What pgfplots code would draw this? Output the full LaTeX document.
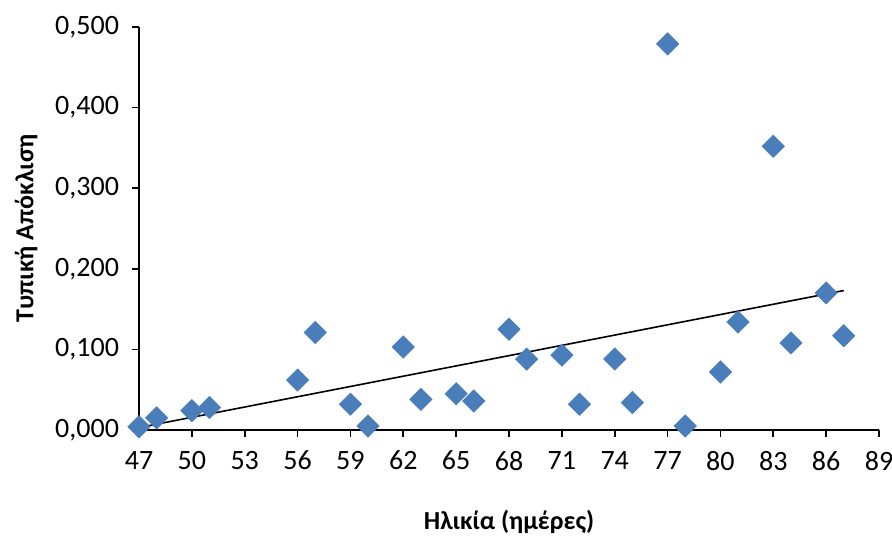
\documentclass[border=0pt]{standalone}
\usepackage{fontspec}
\setmainfont{Carlito}
\usepackage{pgfplots}
\pgfplotsset{compat=1.18}
\definecolor{mk}{HTML}{4A7EBB}
\begin{document}
\begin{tikzpicture}
\begin{axis}[
  scale only axis,
  width=370pt, height=201.5pt,
  xmin=47, xmax=89, ymin=0, ymax=0.5,
  axis x line=bottom, axis y line=left,
  axis line style={-, line width=0.8pt, black},
  xtick={47,50,...,89},
  ytick={0,0.1,0.2,0.3,0.4,0.5},
  tick align=outside,
  major tick length=3.5pt,
  tick style={line width=0.8pt, black},
  /pgf/number format/assume math mode=true,
  yticklabel style={/pgf/number format/fixed, /pgf/number format/fixed zerofill, /pgf/number format/precision=3, /pgf/number format/use comma},
  scaled y ticks=false,
  ticklabel style={font=\fontsize{14}{16}\selectfont},
  xticklabel style={yshift=-3.5pt},
  yticklabel style={xshift=-3pt},
  xlabel={\bfseries Ηλικία (ημέρες)},
  ylabel={\bfseries Τυπική Απόκλιση},
  label style={font=\fontsize{13}{15}\selectfont},
  xlabel style={yshift=-13pt},
  ylabel style={yshift=2pt},
  clip=false,
]
\addplot[black, line width=0.8pt] coordinates {(47,0.003) (87,0.173)};
\addplot[only marks, mark=square*, mark size=3.9pt,
  mark options={rotate=45, fill=mk, draw=mk}] coordinates {
(47,0.004) (48,0.015) (50,0.024) (51,0.028) (56,0.062) (57,0.121)
(59,0.032) (60,0.005) (62,0.103) (63,0.038) (65,0.045) (66,0.036)
(68,0.125) (69,0.088) (71,0.093) (72,0.032) (74,0.088) (75,0.034)
(77,0.479) (78,0.005) (80,0.072) (81,0.134) (83,0.352) (84,0.108)
(86,0.170) (87,0.117)
};
\end{axis}
\pgfresetboundingbox
\path ([shift={(-69.5pt,-54.5pt)}]current axis.south west) rectangle ([shift={(6.5pt,13.5pt)}]current axis.north east);
\end{tikzpicture}
\end{document}
